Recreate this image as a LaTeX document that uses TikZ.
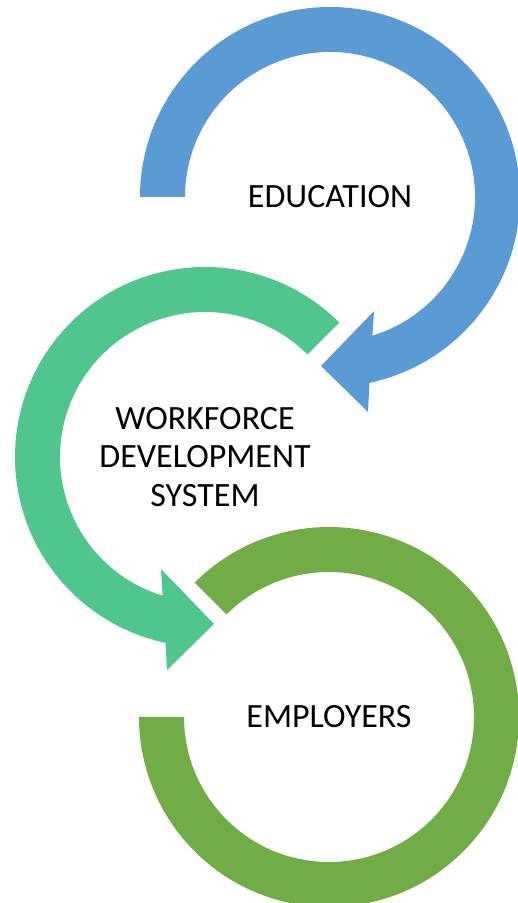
\documentclass[tikz,border=0pt]{standalone}
\usepackage{fontspec}
\setmainfont{Carlito}
\usetikzlibrary{calc}

\definecolor{eduBlue}{HTML}{5B9BD5}
\definecolor{wfdGreen}{HTML}{4FC68E}
\definecolor{empGreen}{HTML}{70AD47}

\begin{document}
\begin{tikzpicture}[x=1pt, y=1pt,
    stage/.style={align=center, font=\fontsize{34}{38.5}\selectfont, text=black, inner sep=0pt},
    ring/.style={draw=none}]

    \useasboundingbox (0,0) rectangle (518,903);

    % Labels
    \node[stage] (edu) at (330,706) {EDUCATION};
    \node[stage] (wds) at (205,446) {WORKFORCE\\DEVELOPMENT\\SYSTEM};
    \node[stage] (emp) at (329,186) {EMPLOYERS};

    % Circular arrows
    \fill[ring, eduBlue] ($(edu)+(180:190)$) arc[start angle=180, end angle=-78, radius=190pt]
        -- ($(edu)+(38,-215)$) -- ($(edu)+(-9,-169)$) -- ($(edu)+(44,-114)$)
        -- ($(edu)+(-73:145)$) arc[start angle=-73, end angle=180, radius=145pt] -- cycle;
    \fill[ring, wfdGreen] ($(wds)+(45:190)$) arc[start angle=45, end angle=258, radius=190pt]
        -- ($(wds)+(-38,-213)$) -- ($(wds)+(9,-167)$) -- ($(wds)+(-44,-112)$)
        -- ($(wds)+(253:145)$) arc[start angle=253, end angle=45, radius=145pt] -- cycle;
    \fill[ring, empGreen] ($(emp)+(135:190)$) arc[start angle=135, end angle=-180, radius=190pt]
        -- ($(emp)+(180:145)$) arc[start angle=-180, end angle=135, radius=145pt] -- cycle;

\end{tikzpicture}
\end{document}
